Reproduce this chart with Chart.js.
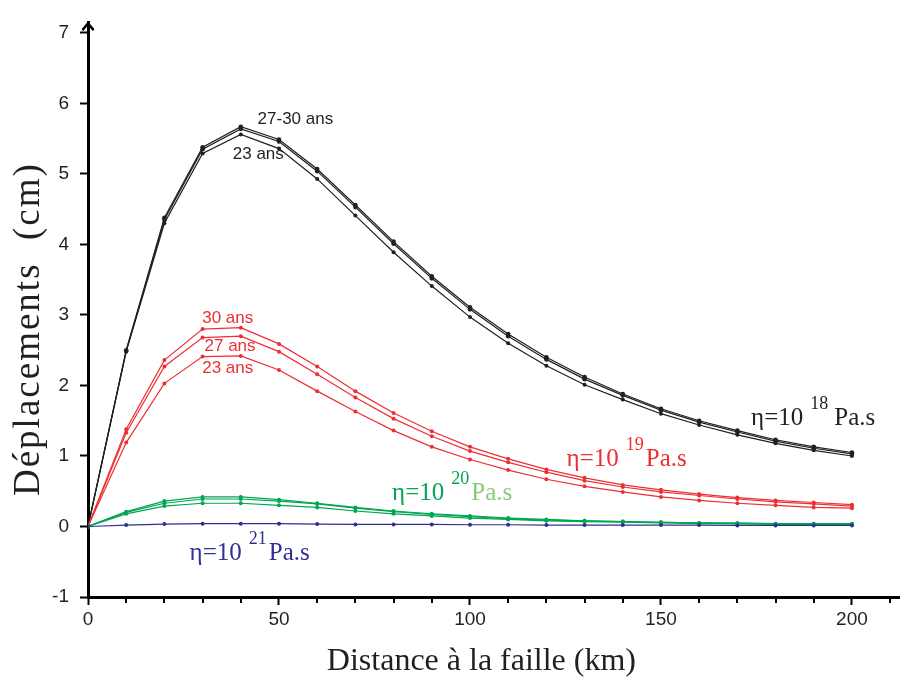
<!DOCTYPE html>
<html><head><meta charset="utf-8">
<script src="https://cdn.jsdelivr.net/npm/chart.js@4.4.1/dist/chart.umd.min.js"></script>
<style>html,body{margin:0;padding:0;background:#fff;}</style>
</head><body>
<canvas id="c" width="902" height="681"></canvas>
<script>
// ---- data ----
const distances = [0,10,20,30,40,50,60,70,80,90,100,110,120,130,140,150,160,170,180,190,200];
const black30 = [0,2.50,4.38,5.38,5.67,5.49,5.07,4.56,4.04,3.55,3.11,2.73,2.40,2.12,1.88,1.67,1.50,1.36,1.23,1.13,1.05];
const black27 = [0,2.49,4.35,5.35,5.64,5.46,5.04,4.53,4.01,3.52,3.08,2.70,2.37,2.09,1.86,1.65,1.48,1.34,1.21,1.11,1.03];
const black23 = [0,2.48,4.30,5.29,5.56,5.36,4.93,4.41,3.89,3.41,2.97,2.60,2.28,2.01,1.80,1.60,1.44,1.30,1.18,1.08,1.00];
const red30 = [0,1.38,2.36,2.80,2.82,2.59,2.27,1.92,1.61,1.35,1.13,0.96,0.81,0.69,0.59,0.52,0.46,0.41,0.37,0.34,0.31];
const red27 = [0,1.33,2.27,2.68,2.70,2.48,2.16,1.83,1.53,1.28,1.07,0.91,0.77,0.65,0.56,0.49,0.44,0.39,0.35,0.32,0.29];
const red23 = [0,1.19,2.03,2.41,2.42,2.22,1.92,1.63,1.36,1.13,0.95,0.80,0.67,0.57,0.49,0.42,0.37,0.33,0.30,0.27,0.26];
const green30 = [0,0.21,0.36,0.42,0.42,0.38,0.33,0.27,0.22,0.18,0.15,0.12,0.10,0.08,0.07,0.06,0.05,0.05,0.04,0.04,0.04];
const green27 = [0,0.20,0.33,0.39,0.39,0.36,0.32,0.26,0.21,0.17,0.14,0.11,0.09,0.08,0.07,0.06,0.05,0.04,0.04,0.04,0.035];
const green23 = [0,0.18,0.29,0.33,0.33,0.30,0.27,0.22,0.18,0.15,0.12,0.10,0.08,0.07,0.06,0.05,0.04,0.04,0.03,0.03,0.03];
const blue = [0,0.02,0.035,0.04,0.04,0.04,0.035,0.03,0.03,0.03,0.025,0.025,0.02,0.02,0.02,0.02,0.02,0.015,0.015,0.015,0.015];

const xMajorLabels = [0,50,100,150,200];
const yTickLabels = [-1,0,1,2,3,4,5,6,7];
const xTitle = 'Distance à la faille (km)';
const yTitle = 'Déplacements  (cm)';

// annotation texts (anchor in data units)
const ageText = ['27-30 ans','23 ans','30 ans','27 ans','23 ans'];
const ageAtX = [44.4,37.9,29.9,30.5,29.9];
const ageAtY = [5.77,5.28,2.95,2.555,2.25];
const ageColor = ['#231f20','#231f20','#ed2f35','#ed2f35','#ed2f35'];

const etaExp = ['18','19','20','21'];
const etaAtX = [173.6,125.3,79.6,26.6];
const etaAtY = [1.438,0.852,0.377,-0.475];
const etaColor = ['#231f20','#ed2f35','#00a651','#2e3192'];
const etaUnitColor = ['#231f20','#ed2f35','#8cc97e','#2e3192'];

const C = {black:'#231f20', red:'#ed2f35', green:'#00a651', blue:'#2e3192'};

function ds(label, ys, color, r){
  return {label, data: distances.map((d,i)=>({x:d,y:ys[i]})), borderColor:color, backgroundColor:color,
    borderWidth:1.2, pointRadius:r, pointHoverRadius:r, pointBorderWidth:0, tension:0, fill:false};
}

const overlay = {
  id:'overlay',
  afterDraw(chart){
    const {ctx, chartArea:a, scales:{x,y}} = chart;
    ctx.save();
    // minor x ticks
    ctx.strokeStyle='#000'; ctx.lineWidth=2;
    x.ticks.forEach(t=>{
      if (t.value % 50 !== 0){
        const px = Math.round(x.getPixelForValue(t.value));
        ctx.beginPath(); ctx.moveTo(px, a.bottom); ctx.lineTo(px, a.bottom+6); ctx.stroke();
      }
    });
    // y-axis arrow head
    const ax = a.left, top = a.top;
    ctx.lineWidth=2.5; ctx.lineCap='round';
    ctx.beginPath(); ctx.moveTo(ax-5, top+7); ctx.lineTo(ax, top+1); ctx.lineTo(ax+5, top+7); ctx.stroke();
    // age labels
    ctx.font = '17px "Liberation Sans", Arial, sans-serif';
    ctx.textBaseline='middle'; ctx.textAlign='left';
    ageText.forEach((t,i)=>{
      ctx.fillStyle = ageColor[i];
      ctx.fillText(t, x.getPixelForValue(ageAtX[i]), y.getPixelForValue(ageAtY[i]));
    });
    // viscosity labels
    ctx.textBaseline='alphabetic';
    etaExp.forEach((e,i)=>{
      let px = x.getPixelForValue(etaAtX[i]);
      const py = y.getPixelForValue(etaAtY[i]);
      ctx.fillStyle = etaColor[i];
      ctx.font = '25px "Liberation Serif", serif';
      const main = '\u03b7=10';
      ctx.fillText(main, px, py);
      px += ctx.measureText(main).width + 7;
      ctx.font = '18px "Liberation Serif", serif';
      ctx.fillText(e, px, py-16);
      px += ctx.measureText(e).width + (i===0 ? 6 : 2);
      ctx.fillStyle = etaUnitColor[i];
      ctx.font = '25px "Liberation Serif", serif';
      ctx.fillText('Pa.s', px, py);
    });
    // axis titles
    ctx.fillStyle = '#231f20';
    ctx.font = '32px "Liberation Serif", serif';
    ctx.textAlign='center'; ctx.textBaseline='middle';
    ctx.fillText(xTitle, x.getPixelForValue(103), 662);
    ctx.save();
    ctx.translate(29, y.getPixelForValue(2.8));
    ctx.rotate(-Math.PI/2);
    ctx.font = '37px "Liberation Serif", serif';
    if ('letterSpacing' in ctx) ctx.letterSpacing = '2px';
    ctx.fillText(yTitle, 0, 0);
    ctx.restore();
    ctx.restore();
  }
};

new Chart(document.getElementById('c'), {
  type:'line',
  data:{ datasets:[
    ds('η=10^21 Pa.s', blue, C.blue, 2),
    ds('η=10^20 23 ans', green23, C.green, 2),
    ds('η=10^20 27 ans', green27, C.green, 2),
    ds('η=10^20 30 ans', green30, C.green, 2),
    ds('η=10^19 23 ans', red23, C.red, 2),
    ds('η=10^19 27 ans', red27, C.red, 2),
    ds('η=10^19 30 ans', red30, C.red, 2),
    ds('η=10^18 23 ans', black23, C.black, 2),
    ds('η=10^18 27 ans', black27, C.black, 2.3),
    ds('η=10^18 30 ans', black30, C.black, 2.3)
  ]},
  options:{
    responsive:false, animation:false, devicePixelRatio:1,
    layout:{padding:{top:13,right:0,left:0,bottom:0}},
    plugins:{legend:{display:false}, tooltip:{enabled:false}},
    scales:{
      x:{ type:'linear', min:0, max:212.5,
        afterFit(s){ s.height = 84; },
        afterBuildTicks(s){ s.ticks = []; for(let v=0; v<=210; v+=10) s.ticks.push({value:v}); },
        grid:{ drawOnChartArea:false, drawTicks:true, tickLength:8,
          tickWidth:2, tickColor:(c)=> (c.tick && c.tick.value % 50 === 0) ? '#000' : 'rgba(0,0,0,0)' },
        border:{ display:true, color:'#000', width:3 },
        ticks:{ autoSkip:false, maxRotation:0, includeBounds:false, padding:3,
          color:'#231f20', font:{family:'"Liberation Sans", Arial, sans-serif', size:19},
          callback:(v)=> xMajorLabels.includes(v) ? String(v) : '' }
      },
      y:{ type:'linear', min:-1, max:7.15,
        afterFit(s){ s.width = 88; },
        afterBuildTicks(s){ s.ticks = yTickLabels.map(v=>({value:v})); },
        grid:{ drawOnChartArea:false, drawTicks:true, tickLength:8, tickWidth:2, tickColor:'#000' },
        border:{ display:true, color:'#000', width:3 },
        ticks:{ padding:11, color:'#231f20', font:{family:'"Liberation Sans", Arial, sans-serif', size:19},
          callback:(v)=> String(v) }
      }
    }
  },
  plugins:[overlay]
});
</script>
</body></html>
